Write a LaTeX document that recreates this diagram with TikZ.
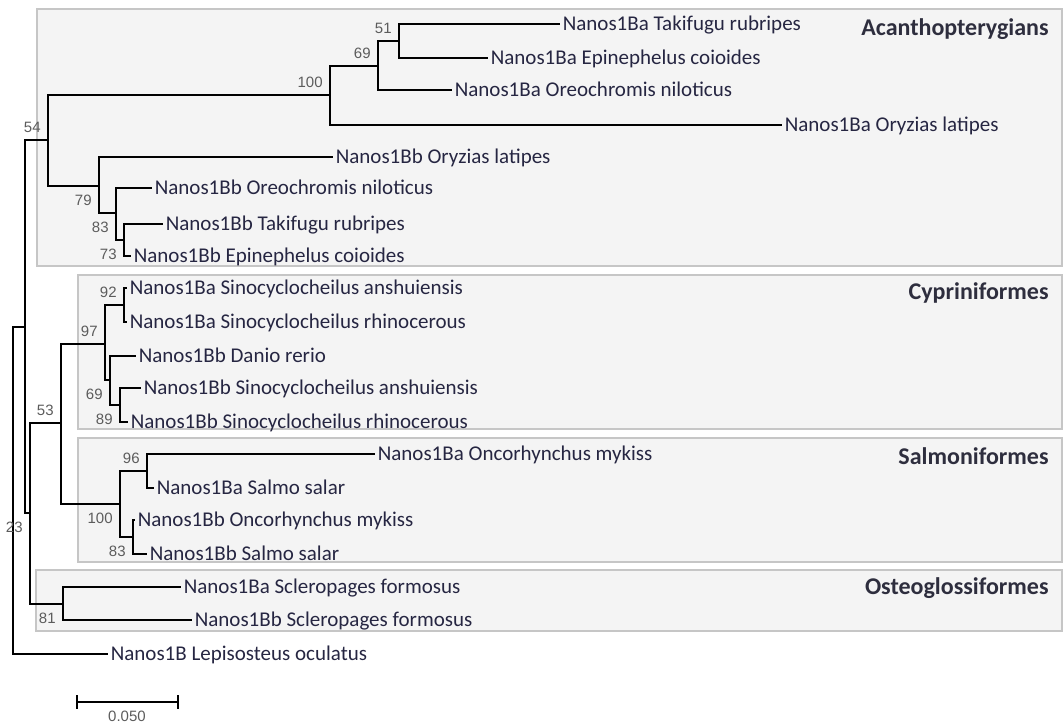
\documentclass[tikz,border=0pt]{standalone}
\usepackage{fontspec}
\setmainfont{Carlito}
\newfontfamily\bsfont{Liberation Sans}
\usetikzlibrary{positioning}
\definecolor{leafcol}{HTML}{262642}
\definecolor{cladecol}{HTML}{2E2E3E}
\definecolor{bscol}{HTML}{5C5C5C}
\definecolor{boxfill}{HTML}{F4F4F4}
\definecolor{boxline}{HTML}{C6C6C6}
\tikzset{
  branch/.style={line width=1pt, line join=miter, black},
  leaf/.style={anchor=west, inner sep=1.2pt, font=\fontsize{10.5}{12}\selectfont,
    text=leafcol, text height=6.8pt, text depth=0pt},
  bs/.style={anchor=east, inner sep=0pt, font=\bsfont\fontsize{7.5}{9}\selectfont,
    text=bscol, text height=5.4pt, text depth=0pt},
  bsa/.style={bs, xshift=-3.5pt, yshift=6.3pt},
  bsb/.style={bs, xshift=-3.5pt, yshift=-7.2pt},
  cladebox/.style={fill=boxfill, draw=boxline, line width=0.7pt},
  clade/.style={anchor=east, inner sep=0pt, font=\bfseries\fontsize{12}{14}\selectfont,
    text=cladecol, text height=7.7pt, text depth=0pt},
}
\begin{document}
\begin{tikzpicture}[x=0.5pt, y=-0.5pt]
    \useasboundingbox (0,0) rectangle (1064,724);

    % clade boxes
    \draw[cladebox] (37,9) rectangle (1062,266);
    \draw[cladebox] (78,275) rectangle (1062,429);
    \draw[cladebox] (78,438) rectangle (1062,562);
    \draw[cladebox] (36,570) rectangle (1062,631);
    \node[clade] (acan) at (1049,28) {Acanthopterygians};
    \node[clade] (cypr) at (1049,292) {Cypriniformes};
    \node[clade] (salm) at (1049,457) {Salmoniformes};
    \node[clade] (oste) at (1049,587) {Osteoglossiformes};

    % internal nodes
    \coordinate (root) at (13,490);
    \coordinate (nA) at (25,327);
    \coordinate (n54) at (48,140);
    \coordinate (n100a) at (330,95);
    \coordinate (n69a) at (378,66);
    \coordinate (n51) at (399,41);
    \coordinate (n79) at (99,186);
    \coordinate (n83a) at (116,213);
    \coordinate (n73) at (124,240);
    \coordinate (n23) at (30,513);
    \coordinate (n53) at (61,423);
    \coordinate (n97) at (105,344);
    \coordinate (n92) at (124,305);
    \coordinate (n69b) at (110,380);
    \coordinate (n89) at (120,405);
    \coordinate (n100b) at (120,504);
    \coordinate (n96) at (147,471);
    \coordinate (n83b) at (133,537);
    \coordinate (n81) at (63,604);

    % leaves
    \node[leaf] (takBa) at (560,24) {Nanos1Ba Takifugu rubripes};
    \node[leaf] (epiBa) at (488,58) {Nanos1Ba Epinephelus coioides};
    \node[leaf] (oreBa) at (452,90) {Nanos1Ba Oreochromis niloticus};
    \node[leaf] (oryBa) at (782,125) {Nanos1Ba Oryzias latipes};
    \node[leaf] (oryBb) at (333,157) {Nanos1Bb Oryzias latipes};
    \node[leaf] (oreBb) at (152,188) {Nanos1Bb Oreochromis niloticus};
    \node[leaf] (takBb) at (163,224) {Nanos1Bb Takifugu rubripes};
    \node[leaf] (epiBb) at (131,256) {Nanos1Bb Epinephelus coioides};
    \node[leaf] (sanBa) at (127,288) {Nanos1Ba Sinocyclocheilus anshuiensis};
    \node[leaf] (srhBa) at (127,322) {Nanos1Ba Sinocyclocheilus rhinocerous};
    \node[leaf] (danBb) at (136,356) {Nanos1Bb Danio rerio};
    \node[leaf] (sanBb) at (141,388) {Nanos1Bb Sinocyclocheilus anshuiensis};
    \node[leaf] (srhBb) at (128,422) {Nanos1Bb Sinocyclocheilus rhinocerous};
    \node[leaf] (oncBa) at (375,454) {Nanos1Ba Oncorhynchus mykiss};
    \node[leaf] (salBa) at (154,488) {Nanos1Ba Salmo salar};
    \node[leaf] (oncBb) at (135,520) {Nanos1Bb Oncorhynchus mykiss};
    \node[leaf] (salBb) at (147,554) {Nanos1Bb Salmo salar};
    \node[leaf] (sclBa) at (181,587) {Nanos1Ba Scleropages formosus};
    \node[leaf] (sclBb) at (192,620) {Nanos1Bb Scleropages formosus};
    \node[leaf] (lepB) at (108,654) {Nanos1B Lepisosteus oculatus};

    % branches
    \draw[branch] (root) |- (nA) (root) |- (lepB);
    \draw[branch] (nA) |- (n54) (nA) |- (n23);
    \draw[branch] (n54) |- (n100a) (n54) |- (n79);
    \draw[branch] (n100a) |- (n69a) (n100a) |- (oryBa);
    \draw[branch] (n69a) |- (n51) (n69a) |- (oreBa);
    \draw[branch] (n51) |- (takBa) (n51) |- (epiBa);
    \draw[branch] (n79) |- (oryBb) (n79) |- (n83a);
    \draw[branch] (n83a) |- (oreBb) (n83a) |- (n73);
    \draw[branch] (n73) |- (takBb) (n73) |- (epiBb);
    \draw[branch] (n23) |- (n53) (n23) |- (n81);
    \draw[branch] (n53) |- (n97) (n53) |- (n100b);
    \draw[branch] (n97) |- (n92) (n97) |- (n69b);
    \draw[branch] (n92) |- (sanBa) (n92) |- (srhBa);
    \draw[branch] (n69b) |- (danBb) (n69b) |- (n89);
    \draw[branch] (n89) |- (sanBb) (n89) |- (srhBb);
    \draw[branch] (n100b) |- (n96) (n100b) |- (n83b);
    \draw[branch] (n96) |- (oncBa) (n96) |- (salBa);
    \draw[branch] (n83b) |- (oncBb) (n83b) |- (salBb);
    \draw[branch] (n81) |- (sclBa) (n81) |- (sclBb);

    % bootstrap values
    \node[bsa] (b54) at (n54) {54};
    \node[bsa] (b100a) at (n100a) {100};
    \node[bsa] (b69a) at (n69a) {69};
    \node[bsa] (b51) at (n51) {51};
    \node[bsb] (b79) at (n79) {79};
    \node[bsb] (b83a) at (n83a) {83};
    \node[bsb] (b73) at (n73) {73};
    \node[bsb] (b23) at (n23) {23};
    \node[bsa] (b53) at (n53) {53};
    \node[bsa] (b97) at (n97) {97};
    \node[bsa] (b92) at (n92) {92};
    \node[bsb] (b69b) at (n69b) {69};
    \node[bsb] (b89) at (n89) {89};
    \node[bsb] (b100b) at (n100b) {100};
    \node[bsa] (b96) at (n96) {96};
    \node[bsb] (b83b) at (n83b) {83};
    \node[bsb] (b81) at (n81) {81};

    % scale bar
    \coordinate (sbl) at (77,702);
    \coordinate (sbr) at (178,702);
    \draw[line width=0.8pt] (sbl) -- (sbr)
      (sbl) ++(0,-7) -- ++(0,14) (sbr) ++(0,-7) -- ++(0,14);
    \node[bs, anchor=center] (sblab) at (127,716) {0.050};
\end{tikzpicture}
\end{document}
